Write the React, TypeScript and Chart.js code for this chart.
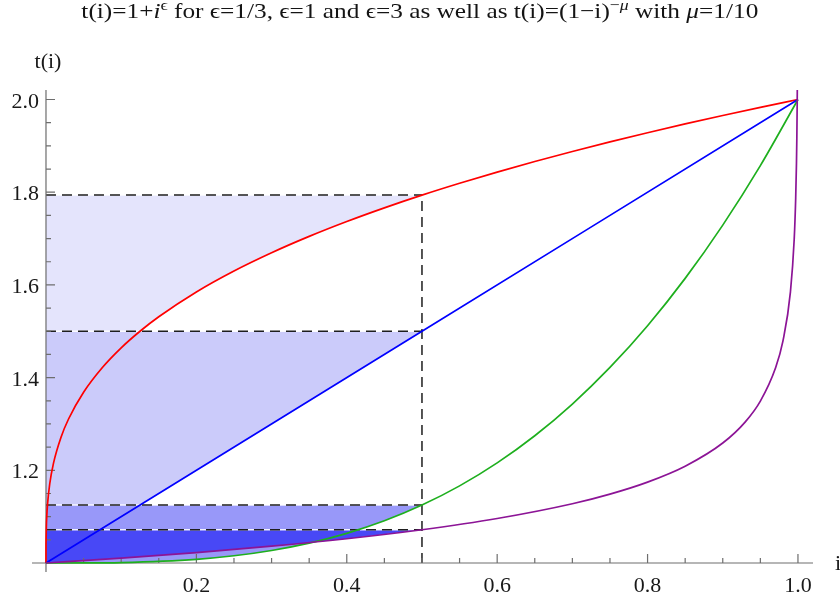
import React, { useEffect, useRef } from "react";
import { Chart, registerables } from "chart.js";

Chart.register(...registerables);

// ---- data ----
const xCut = 0.5;

const redX = [0, 0.00001, 0.0001, 0.0005, 0.001, 0.002, 0.005, 0.01, 0.02, 0.03, 0.05, 0.075, 0.1, 0.125, 0.15, 0.2, 0.25, 0.3, 0.35, 0.4, 0.45, 0.5, 0.55, 0.6, 0.65, 0.7, 0.75, 0.8, 0.85, 0.9, 0.95, 1.0];
const redY = [1, 1.0215, 1.0464, 1.0794, 1.1, 1.126, 1.171, 1.2154, 1.2714, 1.3107, 1.3684, 1.4217, 1.4642, 1.5, 1.5313, 1.5848, 1.63, 1.6694, 1.7047, 1.7368, 1.7663, 1.7937, 1.8193, 1.8434, 1.8662, 1.8879, 1.9086, 1.9283, 1.9473, 1.9655, 1.983, 2.0];

const blueX = [0, 0.5, 1.0];
const blueY = [1, 1.5, 2.0];

const greenX = [0, 0.05, 0.1, 0.2, 0.25, 0.3, 0.35, 0.4, 0.45, 0.5, 0.55, 0.6, 0.65, 0.7, 0.75, 0.8, 0.85, 0.9, 0.95, 1.0];
const greenY = [1, 1.0001, 1.001, 1.008, 1.0156, 1.027, 1.0429, 1.064, 1.0911, 1.125, 1.1664, 1.216, 1.2746, 1.343, 1.4219, 1.512, 1.6141, 1.729, 1.8574, 2.0];

const purpleX = [0, 0.1, 0.2, 0.3, 0.4, 0.5, 0.6, 0.7, 0.75, 0.8, 0.85, 0.9, 0.93, 0.95, 0.97, 0.98, 0.99, 0.995, 0.997, 0.998, 0.9985, 0.999, 0.99916];
const purpleY = [1, 1.0106, 1.0226, 1.0363, 1.0524, 1.0718, 1.096, 1.1279, 1.1487, 1.1746, 1.2089, 1.2589, 1.3046, 1.3493, 1.42, 1.4788, 1.5849, 1.6985, 1.7876, 1.8616, 1.916, 1.9953, 2.03];

const xTicks = [0.2, 0.4, 0.6, 0.8, 1.0];
const xTickLabels = ["0.2", "0.4", "0.6", "0.8", "1.0"];
const yTicks = [1.2, 1.4, 1.6, 1.8, 2.0];
const yTickLabels = ["1.2", "1.4", "1.6", "1.8", "2.0"];
const minorStep = 0.05;

// ---- styles ----
const curveColors = ["rgb(255,0,0)", "rgb(0,0,255)", "rgb(30,175,30)", "rgb(140,20,150)"];
const fillColors = ["rgb(228,228,252)", "rgb(203,203,250)", "rgb(152,152,249)", "rgb(72,72,246)"];
const axisColor = "rgb(110,110,110)";
const serif = '"Liberation Serif", "DejaVu Serif", serif';

const pts = (xs: number[], ys: number[]) => xs.map((x, i) => ({ x, y: ys[i] }));
const levelAt = (xs: number[], ys: number[]) => ys[xs.indexOf(xCut)];

const axesPlugin = {
  id: "mmaAxes",
  afterDatasetDraw(chart: any, args: any) {
    const ds = chart.data.datasets[args.index];
    if (!ds.drawAxesAfter) return;
    const { ctx, chartArea } = chart;
    const xs = chart.scales.x;
    const ys = chart.scales.y;
    const x0 = xs.getPixelForValue(0);
    const y0 = ys.getPixelForValue(1);
    ctx.save();
    ctx.strokeStyle = axisColor;
    ctx.lineWidth = 1.2;
    ctx.beginPath();
    ctx.moveTo(chartArea.left, y0);
    ctx.lineTo(chartArea.right, y0);
    ctx.moveTo(x0, chartArea.bottom);
    ctx.lineTo(x0, chartArea.top);
    for (let v = minorStep; v <= 1.0001; v += minorStep) {
      const px = xs.getPixelForValue(v);
      const major = xTicks.some((t) => Math.abs(t - v) < 1e-6);
      ctx.moveTo(px, y0);
      ctx.lineTo(px, y0 - (major ? 9 : 5));
    }
    for (let v = 1 + minorStep; v <= 2.0001; v += minorStep) {
      const py = ys.getPixelForValue(v);
      const major = yTicks.some((t) => Math.abs(t - v) < 1e-6);
      ctx.moveTo(x0, py);
      ctx.lineTo(x0 + (major ? 9 : 5), py);
    }
    ctx.stroke();

    ctx.fillStyle = "rgb(25,25,25)";
    ctx.font = `22px ${serif}`;
    ctx.textBaseline = "alphabetic";
    ctx.textAlign = "center";
    xTicks.forEach((t, i) => {
      ctx.fillText(xTickLabels[i], xs.getPixelForValue(t), y0 + 29);
    });
    ctx.textAlign = "right";
    yTicks.forEach((t, i) => {
      ctx.fillText(yTickLabels[i], x0 - 7, ys.getPixelForValue(t) + 8);
    });
    ctx.textAlign = "center";
    ctx.fillText("t(i)", x0 + 2, 68);
    ctx.textAlign = "left";
    ctx.fillText("i", 835, y0 + 7);
    ctx.restore();
  },
};

export default function App() {
  const ref = useRef<HTMLCanvasElement | null>(null);

  useEffect(() => {
    if (!ref.current) return;
    const series = [
      { xs: redX, ys: redY },
      { xs: blueX, ys: blueY },
      { xs: greenX, ys: greenY },
      { xs: purpleX, ys: purpleY },
    ];
    const levels = series.map((s) => levelAt(s.xs, s.ys));

    const fillSets = series.map((s, i) => ({
      data: pts(s.xs, s.ys).filter((p) => p.x <= xCut),
      fill: { value: levels[i] },
      backgroundColor: fillColors[i],
      borderColor: "rgba(0,0,0,0)",
      borderWidth: 0,
      pointRadius: 0,
      cubicInterpolationMode: "monotone",
      order: 20 - i,
    }));

    const underlaySets = levels.map((lv) => ({
      data: [{ x: 0, y: lv }, { x: xCut, y: lv }],
      fill: false,
      borderColor: "rgba(255,255,255,0.9)",
      borderWidth: 1.4,
      pointRadius: 0,
      order: 12,
    }));

    const dashSets: any[] = levels.map((lv) => ({
      data: [{ x: 0, y: lv }, { x: xCut, y: lv }],
      fill: false,
      borderColor: "rgb(30,30,30)",
      borderWidth: 1.5,
      borderDash: [10, 6],
      pointRadius: 0,
      order: 11,
    }));
    dashSets.push({
      data: [{ x: xCut, y: 1 }, { x: xCut, y: levels[0] }],
      fill: false,
      borderColor: "rgb(30,30,30)",
      borderWidth: 1.5,
      borderDash: [10, 6],
      pointRadius: 0,
      order: 10,
      drawAxesAfter: true,
    });

    const curveSets = series.map((s, i) => ({
      data: pts(s.xs, s.ys),
      fill: false,
      borderColor: curveColors[i],
      borderWidth: 1.7,
      pointRadius: 0,
      cubicInterpolationMode: "monotone",
      order: 4 - i,
    }));

    const chart = new Chart(ref.current, {
      type: "line",
      data: { datasets: [...fillSets, ...underlaySets, ...dashSets, ...curveSets] as any },
      options: {
        animation: false,
        responsive: false,
        events: [],
        layout: { padding: { left: 32, right: 27, top: 90, bottom: 25 } },
        plugins: { legend: { display: false }, tooltip: { enabled: false }, title: { display: false } },
        scales: {
          x: { type: "linear", min: -0.0186, max: 1.02, display: false },
          y: { type: "linear", min: 0.9806, max: 2.0205, display: false },
        },
      },
      plugins: [axesPlugin],
    });
    return () => chart.destroy();
  }, []);

  const supStyle: React.CSSProperties = { fontSize: "0.7em", lineHeight: 0, verticalAlign: "0.55em" };

  return (
    <div style={{ position: "absolute", left: 0, top: 0, width: 840, height: 597, background: "#fff" }}>
      <div
        style={{
          position: "absolute",
          left: 0,
          top: -1,
          width: 840,
          textAlign: "center",
          fontFamily: serif,
          fontSize: 22,
          lineHeight: "24px",
          color: "rgb(20,20,20)",
          whiteSpace: "nowrap",
          transform: "scaleX(1.15)",
          transformOrigin: "421px 0",
        }}
      >
        t(i)=1+<i>i</i>
        <sup style={supStyle}>ϵ</sup> for ϵ=1/3, ϵ=1 and ϵ=3 as well as t(i)=(1−i)
        <sup style={supStyle}>
          −<i>μ</i>
        </sup>{" "}
        with <i>μ</i>=1/10
      </div>
      <canvas ref={ref} width={840} height={597} style={{ display: "block" }} />
    </div>
  );
}
